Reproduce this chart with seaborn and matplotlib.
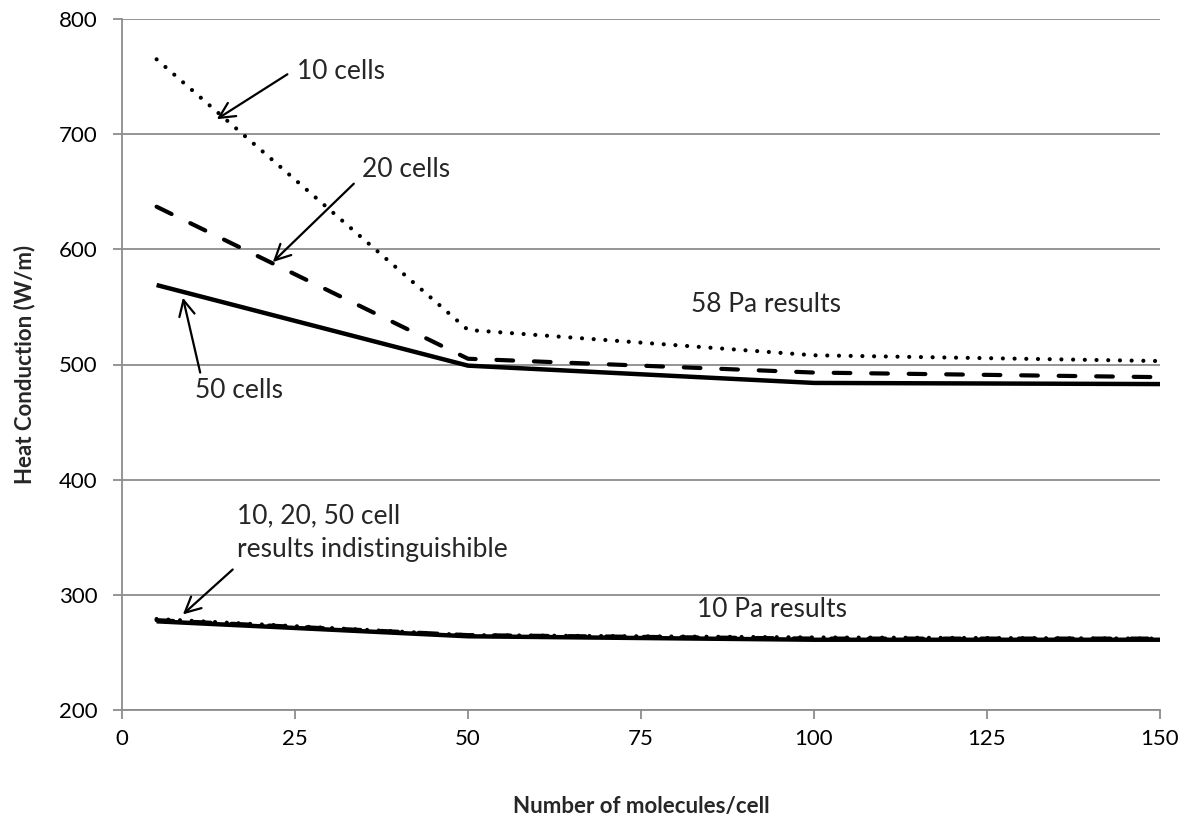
import matplotlib
matplotlib.use("Agg")
import matplotlib.pyplot as plt
import seaborn as sns
import pandas as pd

# ---- data ----
molecules = [5, 50, 100, 150]
pa58_10cells = [765, 530, 508, 503]
pa58_20cells = [637, 505, 493, 489]
pa58_50cells = [569, 499, 484, 483]
pa10_10cells = [279, 265, 263, 262]
pa10_20cells = [278, 265, 262, 262]
pa10_50cells = [277, 264, 261, 261]
x_ticks = [0, 25, 50, 75, 100, 125, 150]
y_ticks = [200, 300, 400, 500, 600, 700, 800]

sns.set_theme(style="white")
plt.rcParams['font.family'] = ['Lato', 'DejaVu Sans']

fig = plt.figure(figsize=(11.87, 8.18), dpi=100)
ax = fig.add_axes([122/1187, 1 - 710/818, (1160-122)/1187, (710-19)/818])

gray = "#8c8c8c"
dotted = dict(linestyle=(0, (0.01, 2.8)), dash_capstyle='round', lw=3.0, color='black')
dashed = dict(linestyle=(0, (4.0, 5.0)), dash_capstyle='round', lw=3.0, color='black')
solid = dict(linestyle='-', lw=3.2, color='black', solid_capstyle='butt')

for ys, st in [(pa10_10cells, dotted), (pa10_20cells, dashed), (pa10_50cells, solid),
               (pa58_10cells, dotted), (pa58_20cells, dashed), (pa58_50cells, solid)]:
    df = pd.DataFrame({"x": molecules, "y": ys})
    sns.lineplot(data=df, x="x", y="y", ax=ax, legend=False, **st)

ax.set_xlim(0, 150)
ax.set_ylim(200, 800)
ax.set_xticks(x_ticks)
ax.set_yticks(y_ticks)
ax.set_xticklabels([str(v) for v in x_ticks])
ax.set_yticklabels([str(v) for v in y_ticks])
ax.yaxis.grid(True, color=gray, lw=1.3)
ax.xaxis.grid(False)
ax.set_axisbelow(True)
for s in ['top', 'right']:
    ax.spines[s].set_visible(False)
for s in ['left', 'bottom']:
    ax.spines[s].set_color(gray)
    ax.spines[s].set_linewidth(1.3)
ax.tick_params(axis='both', which='major', direction='out', length=6.5, width=1.3,
               color=gray, labelsize=16, labelcolor='black')
ax.tick_params(axis='y', pad=11)
ax.tick_params(axis='x', pad=7)
ax.tick_params(left=True, bottom=True)

ax.set_xlabel("Number of molecules/cell", fontsize=16, fontweight='bold', labelpad=34)
ax.set_ylabel("Heat Conduction (W/m)", fontsize=16, fontweight='bold', labelpad=17)

arrow = dict(arrowstyle='->', lw=1.6, color='black', mutation_scale=28, shrinkA=0, shrinkB=0)
fs = 19
ax.text(25.3, 754, "10 cells", fontsize=fs, ha='left', va='center')
ax.annotate("", xy=(13.7, 713), xytext=(23.9, 752), arrowprops=arrow)
ax.text(34.7, 669, "20 cells", fontsize=fs, ha='left', va='center')
ax.annotate("", xy=(21.8, 589), xytext=(33.5, 657), arrowprops=arrow)
ax.text(10.6, 477, "50 cells", fontsize=fs, ha='left', va='center')
ax.annotate("", xy=(8.8, 558), xytext=(11.3, 493), arrowprops=arrow)
ax.text(93.0, 552, "58 Pa results", fontsize=fs, ha='center', va='center')
ax.text(16.6, 354, "10, 20, 50 cell\nresults indistinguishible", fontsize=fs,
        ha='left', va='center', linespacing=1.4)
ax.annotate("", xy=(8.8, 283), xytext=(16.0, 322), arrowprops=arrow)
ax.text(94.0, 287, "10 Pa results", fontsize=fs, ha='center', va='center')

fig.savefig("out.png", dpi=100)
